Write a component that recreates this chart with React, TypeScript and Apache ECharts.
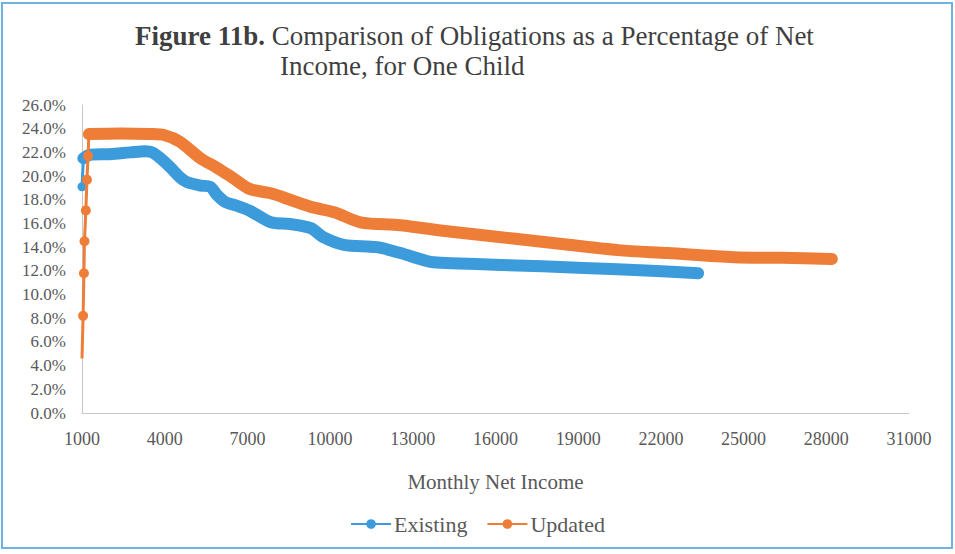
import React, { useEffect, useRef } from "react";
import * as echarts from "echarts";

// Monthly net income (x) and obligation as % of net income (y)
const existingX = [1000, 1050, 1300, 2000, 2750, 3300, 3550, 3850, 4200, 4550, 4800, 5300, 5650, 5900, 6200, 6550, 7100, 7850, 8550, 9300, 9750, 10500, 11700, 12550, 13650, 14400, 16200, 19200, 21650, 23350];
const existingY = [19.1, 21.5, 21.8, 21.85, 22.0, 22.1, 22.0, 21.5, 20.75, 19.9, 19.5, 19.2, 19.1, 18.4, 17.8, 17.55, 17.05, 16.1, 15.95, 15.6, 14.85, 14.2, 14.0, 13.5, 12.75, 12.65, 12.5, 12.25, 12.0, 11.8];
const existingEarlyCount = 2; // points drawn with visible markers at the start

const updatedX = [1000, 1040, 1070, 1090, 1140, 1180, 1220, 1250, 2400, 3450, 4000, 4550, 5300, 5900, 6500, 7100, 7850, 8550, 9300, 10150, 11100, 12550, 14400, 16550, 18650, 20450, 22250, 24650, 26400, 28200];
const updatedY = [4.6, 8.2, 11.8, 14.5, 17.1, 19.7, 21.7, 23.55, 23.6, 23.55, 23.45, 22.9, 21.5, 20.7, 19.8, 18.9, 18.55, 18.0, 17.4, 16.95, 16.1, 15.85, 15.3, 14.75, 14.2, 13.75, 13.5, 13.15, 13.1, 13.0];
const updatedEarlyCount = 8;

const seriesNames = ["Existing", "Updated"];
const xMin = 1000, xMax = 31000, xStep = 3000;
const yMin = 0, yMax = 26, yStep = 2;

const BLUE = "#3C9BDB";
const ORANGE = "#EE7D38";
const SERIF = "Liberation Serif";

function pairs(xs: number[], ys: number[]) {
  return xs.map((x, i) => [x, ys[i]]);
}

export default function App() {
  const ref = useRef<HTMLDivElement>(null);
  useEffect(() => {
    if (!ref.current) return;
    const chart = echarts.init(ref.current, undefined, { renderer: "svg" });
    const ex = pairs(existingX, existingY);
    const up = pairs(updatedX, updatedY);
    const exEarly = ex.slice(0, existingEarlyCount + 1).map((p, i) =>
      i < existingEarlyCount ? p : { value: p, symbol: "none" }
    );
    const upEarly = up.slice(0, updatedEarlyCount).map((p, i) =>
      i === 0 || i === updatedEarlyCount - 1 ? { value: p, symbol: "none" } : p
    );
    const exMain = ex.slice(existingEarlyCount - 1);
    const upMain = up.slice(updatedEarlyCount - 1);

    chart.setOption({
      animation: false,
      backgroundColor: "#ffffff",
      grid: { left: 82, right: 46, top: 105, bottom: 141, containLabel: false },
      graphic: [
        {
          type: "rect",
          shape: { x: 2, y: 3, width: 950, height: 545 },
          style: { fill: "none", stroke: "#6FB2E2", lineWidth: 2 },
          silent: true,
        },
        {
          type: "text",
          x: 135,
          y: 36,
          style: {
            text: "{b|Figure 11b.}{r| Comparison of Obligations as a Percentage of Net}",
            font: "normal 27px 'Liberation Serif'",
            fontFamily: SERIF,
            fontSize: 27,
            fill: "#3f3f3f",
            verticalAlign: "middle",
            rich: {
              b: { fontWeight: "bold", fontFamily: SERIF, fontSize: 27, fill: "#3f3f3f" },
              r: { fontWeight: "normal", fontFamily: SERIF, fontSize: 27, fill: "#3f3f3f" },
            },
          },
        },
        {
          type: "text",
          x: 280,
          y: 66,
          style: {
            text: "{r|Income, for One Child}",
            font: "normal 27px 'Liberation Serif'",
            fontFamily: SERIF,
            fontSize: 27,
            fill: "#3f3f3f",
            verticalAlign: "middle",
            rich: {
              r: { fontWeight: "normal", fontFamily: SERIF, fontSize: 27, fill: "#3f3f3f" },
            },
          },
        },
      ],
      legend: {
        data: [
          { name: seriesNames[0] },
          { name: seriesNames[1] },
        ],
        left: "center",
        top: 508,
        itemWidth: 40,
        itemHeight: 12,
        itemGap: 19,
        textStyle: { fontFamily: SERIF, fontSize: 22, color: "#595959", padding: [0, 0, 0, -2] },
      },
      xAxis: {
        type: "value",
        min: xMin,
        max: xMax,
        interval: xStep,
        name: "Monthly Net Income",
        nameLocation: "middle",
        nameGap: 58,
        nameTextStyle: { fontFamily: SERIF, fontSize: 21, color: "#595959" },
        axisLine: { show: true, lineStyle: { color: "#c8c8c8", width: 1 } },
        axisTick: { show: false },
        splitLine: { show: false },
        axisLabel: {
          fontFamily: SERIF,
          fontSize: 18,
          color: "#595959",
          margin: 17,
          formatter: (v: number) => String(v),
        },
      },
      yAxis: {
        type: "value",
        min: yMin,
        max: yMax,
        interval: yStep,
        axisLine: { show: true, lineStyle: { color: "#c8c8c8", width: 1 } },
        axisTick: { show: false },
        splitLine: { show: false },
        axisLabel: {
          fontFamily: SERIF,
          fontSize: 17,
          color: "#595959",
          margin: 16,
          formatter: (v: number) => v.toFixed(1) + "%",
        },
      },
      series: [
        {
          name: seriesNames[0],
          type: "line",
          data: exEarly,
          z: 4,
          symbol: "circle",
          symbolSize: 9,
          showSymbol: true,
          lineStyle: { color: BLUE, width: 3 },
          itemStyle: { color: BLUE },
        },
        {
          name: seriesNames[1],
          type: "line",
          data: upEarly,
          z: 5,
          symbol: "circle",
          symbolSize: 10,
          showSymbol: true,
          lineStyle: { color: ORANGE, width: 3 },
          itemStyle: { color: ORANGE },
        },
        {
          name: seriesNames[0],
          type: "line",
          data: exMain,
          z: 2,
          smooth: 0.3,
          showSymbol: false,
          symbol: "none",
          lineStyle: { color: BLUE, width: 12, cap: "round", join: "round" },
          itemStyle: { color: BLUE },
        },
        {
          name: seriesNames[1],
          type: "line",
          data: upMain,
          z: 3,
          smooth: 0.3,
          showSymbol: false,
          symbol: "none",
          lineStyle: { color: ORANGE, width: 12, cap: "round", join: "round" },
          itemStyle: { color: ORANGE },
        },
      ],
    });
    return () => chart.dispose();
  }, []);
  return (
    <div
      ref={ref}
      style={{ position: "fixed", left: 0, top: 0, width: 955, height: 554 }}
    />
  );
}
